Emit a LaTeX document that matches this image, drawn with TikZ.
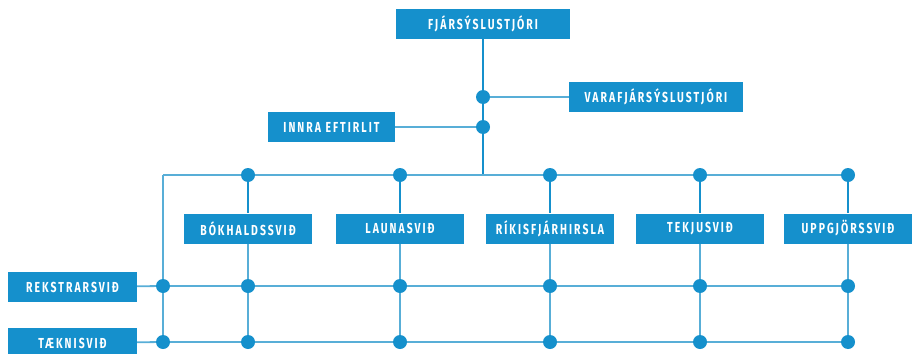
\documentclass[tikz,border=0pt]{standalone}
\usepackage{fontspec}
\setmainfont{Fira Sans}[FakeStretch=0.72,LetterSpace=14]
\usetikzlibrary{positioning}

\newlength{\du}
\setlength{\du}{1pt}

\definecolor{boxcolor}{rgb}{0.082, 0.565, 0.800}
\definecolor{linecolor}{rgb}{0.345, 0.682, 0.843}

\tikzset{
  unitbox/.style={fill=boxcolor, text=white, inner sep=0pt, minimum height=30\du,
    font=\bfseries\fontsize{14.5}{14.5}\selectfont},
  knot/.style={circle, fill=boxcolor, inner sep=0pt, minimum size=14\du},
  trunk/.style={draw=boxcolor, line width=2\du},
  wire/.style={draw=linecolor, line width=1.8\du},
}

\begin{document}
\begin{tikzpicture}
\pgftransformxscale{1.000000}
\pgftransformyscale{-1.000000}
\useasboundingbox (0\du,0\du) rectangle (917\du,353\du);
% top management
\node[unitbox, minimum width=174\du] (chief) at (483\du,24\du){FJÁRSÝSLUSTJÓRI};
\node[unitbox, minimum width=174\du] (deputy) at (656\du,97\du){VARAFJÁRSÝSLUSTJÓRI};
\node[unitbox, minimum width=127\du] (audit) at (331.5\du,127\du){INNRA EFTIRLIT};
\node[knot] (d1) at (483\du,97\du){};
\node[knot] (d2) at (483\du,127\du){};
\coordinate (bus) at (483\du,175\du);
\coordinate (corner) at (163\du,175\du);
% departments
\node[unitbox, minimum width=128\du] (bokhald) at (248\du,228.5\du){BÓKHALDSSVIÐ};
\node[unitbox, minimum width=128\du] (laun) at (400\du,228.5\du){LAUNASVIÐ};
\node[unitbox, minimum width=128\du] (rikis) at (550\du,228.5\du){RÍKISFJÁRHIRSLA};
\node[unitbox, minimum width=128\du] (tekjur) at (700\du,228.5\du){TEKJUSVIÐ};
\node[unitbox, minimum width=128\du] (uppgjor) at (848\du,228.5\du){UPPGJÖRSSVIÐ};
% cross units
\node[unitbox, minimum width=129\du] (rekstur) at (72.5\du,287\du){REKSTRARSVIÐ};
\node[unitbox, minimum width=129\du] (taekni) at (72.5\du,343\du){TÆKNISVIÐ};
% knots
\node[knot] (t1) at (248\du,175\du){};
\node[knot] (t2) at (400\du,175\du){};
\node[knot] (t3) at (550\du,175\du){};
\node[knot] (t4) at (700\du,175\du){};
\node[knot] (t5) at (848\du,175\du){};
\foreach \row/\y in {a/286,b/342}{
  \node[knot] (\row0) at (163\du,\y\du){};
  \node[knot] (\row1) at (248\du,\y\du){};
  \node[knot] (\row2) at (400\du,\y\du){};
  \node[knot] (\row3) at (550\du,\y\du){};
  \node[knot] (\row4) at (700\du,\y\du){};
  \node[knot] (\row5) at (848\du,\y\du){};
}
% connectors
\path[trunk] (chief) -- (d1);
\path[trunk] (d1) -- (d2);
\path[trunk] (d2) -- (bus);
\path[wire] (d1) -- (deputy);
\path[wire] (d2) -- (audit);
\path[wire] (corner) -- (t1);
\path[wire] (t1) -- (t2);
\path[wire] (t2) -- (t3);
\path[wire] (t3) -- (t4);
\path[wire] (t4) -- (t5);
\path[wire] (corner) -- (a0);
\path[wire] (a0) -- (b0);
\path[trunk] (t1) -- (bokhald);
\path[trunk] (t2) -- (laun);
\path[trunk] (t3) -- (rikis);
\path[trunk] (t4) -- (tekjur);
\path[trunk] (t5) -- (uppgjor);
\path[wire] (bokhald) -- (a1);
\path[wire] (laun) -- (a2);
\path[wire] (rikis) -- (a3);
\path[wire] (tekjur) -- (a4);
\path[wire] (uppgjor) -- (a5);
\foreach \i in {1,...,5}{
  \path[wire] (a\i) -- (b\i);
}
\path[wire] (rekstur) -- (a0);
\path[wire] (taekni) -- (b0);
\foreach \i [count=\j from 1] in {0,...,4}{
  \path[wire] (a\i) -- (a\j);
  \path[wire] (b\i) -- (b\j);
}
\end{tikzpicture}
\end{document}
